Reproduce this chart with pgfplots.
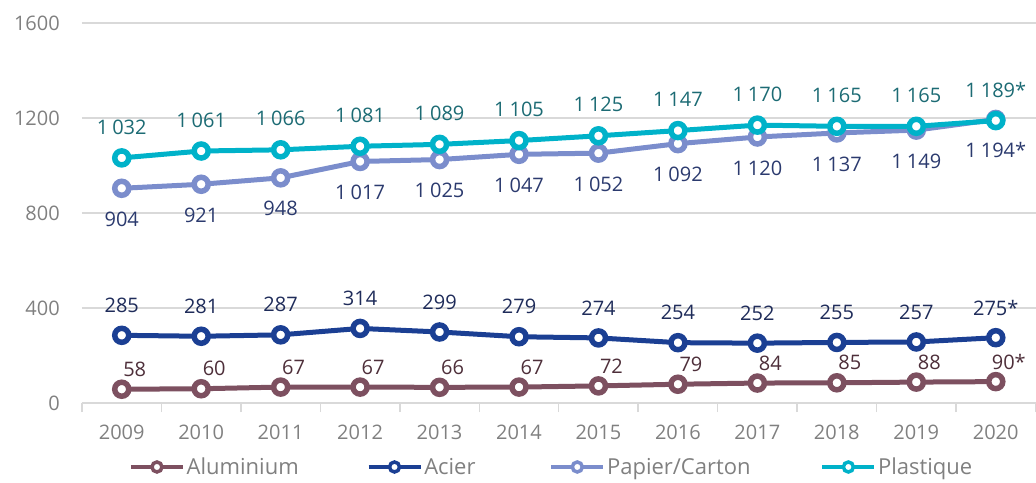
\documentclass[border=0pt]{standalone}
\usepackage{fontspec}
\setmainfont{Open Sans}
\usepackage{pgfplots}
\pgfplotsset{compat=1.18}
\definecolor{alu}{HTML}{7D5060}
\definecolor{alut}{HTML}{4E2F3A}
\definecolor{aci}{HTML}{1B3F93}
\definecolor{acit}{HTML}{1F2C5A}
\definecolor{pap}{HTML}{7B8DCC}
\definecolor{papt}{HTML}{2B3A6E}
\definecolor{pla}{HTML}{00B2C9}
\definecolor{plat}{HTML}{1C6B74}
\definecolor{gridc}{HTML}{D9D9D9}
\definecolor{tickc}{HTML}{808080}
\newcommand\ts{\kern0.2em}
\begin{document}
\begin{tikzpicture}
\path[use as bounding box] (-82pt,-79pt) rectangle (954pt,403pt);
\begin{axis}[
  at={(0pt,0pt)}, anchor=south west,
  scale only axis, width=953.5pt, height=380pt,
  xmin=2008.5, xmax=2020.5, ymin=0, ymax=1600,
  xtick={2009,...,2020}, ytick={0,400,...,1600},
  minor xtick={2008.5,2009.5,...,2020.5},
  major tick length=0pt, minor tick length=9pt,
  tick align=outside,
  axis x line*=bottom, axis y line*=left,
  y axis line style={draw=none},
  x axis line style={draw=gridc, line width=1.5pt},
  ymajorgrids, grid style={gridc, line width=1.5pt},
  minor x tick style={draw=gridc, line width=1.5pt},
  /pgf/number format/assume math mode=true,
  /pgf/number format/1000 sep={},
  tick label style={font=\fontsize{20}{24}\selectfont, text=tickc, inner sep=0pt},
  xticklabel style={anchor=center, yshift=-29pt},
  yticklabel style={anchor=east, xshift=-22pt},
  clip=false,
  point meta=explicit symbolic,
  every axis plot/.append style={line width=5pt, mark=*, mark size=7pt,
     mark options={fill=white, line width=5.5pt, solid}},
  legend columns=4,
  legend style={at={(0.0493,-0.1684)}, anchor=west, draw=none, fill=none,
     inner sep=0pt, font=\fontsize{22}{26}\selectfont, text=tickc,
     nodes={inner sep=2pt},
     /tikz/column 2/.style={column sep=66pt},
     /tikz/column 4/.style={column sep=72pt},
     /tikz/column 6/.style={column sep=68pt}},
  legend cell align=left,
  legend image code/.code={
     \draw[#1, line width=3.5pt] (0pt,0pt) -- (52pt,0pt);
     \draw[#1, line width=3.5pt, mark size=5pt, mark options={fill=white, line width=3.5pt, solid}] plot coordinates {(26pt,0pt)};
  },
]
\addplot[alu, nodes near coords, nodes near coords style={anchor=center, inner sep=0pt, font=\fontsize{20}{24}\selectfont, text=alut, xshift=13pt, yshift=20pt}]
coordinates {(2009,58)[58] (2010,60)[60] (2011,67)[67] (2012,67)[67] (2013,66)[66] (2014,67)[67]
 (2015,72)[72] (2016,79)[79] (2017,84)[84] (2018,85)[85] (2019,88)[88] (2020,90)[90*]};
\addlegendentry{Aluminium}
\addplot[aci, nodes near coords, nodes near coords style={anchor=center, inner sep=0pt, font=\fontsize{20}{24}\selectfont, text=acit, yshift=30pt}]
coordinates {(2009,285)[285] (2010,281)[281] (2011,287)[287] (2012,314)[314] (2013,299)[299] (2014,279)[279]
 (2015,274)[274] (2016,254)[254] (2017,252)[252] (2018,255)[255] (2019,257)[257] (2020,275)[275*]};
\addlegendentry{Acier}
\addplot[pap, nodes near coords, nodes near coords style={anchor=center, inner sep=0pt, font=\fontsize{20}{24}\selectfont, text=papt, yshift=-31pt}]
coordinates {(2009,904)[904] (2010,921)[921] (2011,948)[948] (2012,1017)[1\ts017] (2013,1025)[1\ts025] (2014,1047)[1\ts047]
 (2015,1052)[1\ts052] (2016,1092)[1\ts092] (2017,1120)[1\ts120] (2018,1137)[1\ts137] (2019,1149)[1\ts149] (2020,1194)[1\ts194*]};
\addlegendentry{Papier/Carton}
\addplot[pla, nodes near coords, nodes near coords style={anchor=center, inner sep=0pt, font=\fontsize{20}{24}\selectfont, text=plat, yshift=31pt}]
coordinates {(2009,1032)[1\ts032] (2010,1061)[1\ts061] (2011,1066)[1\ts066] (2012,1081)[1\ts081] (2013,1089)[1\ts089] (2014,1105)[1\ts105]
 (2015,1125)[1\ts125] (2016,1147)[1\ts147] (2017,1170)[1\ts170] (2018,1165)[1\ts165] (2019,1165)[1\ts165] (2020,1189)[1\ts189*]};
\addlegendentry{Plastique}
\end{axis}
\end{tikzpicture}
\end{document}
